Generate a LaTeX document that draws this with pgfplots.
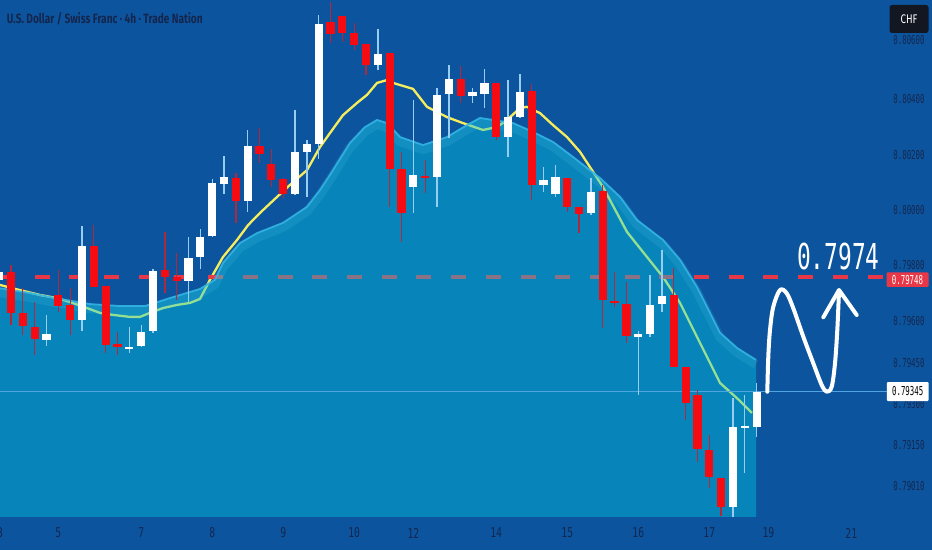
\documentclass[border=0pt]{standalone}
\usepackage{fontspec}
\setmainfont{Fira Sans}
\newfontfamily\numfont{DejaVu Sans Mono}[FakeStretch=0.6]
\newfontfamily\xnumfont{DejaVu Sans Mono}[FakeStretch=0.72]
\newfontfamily\bignumfont{DejaVu Sans Mono}[FakeStretch=0.64]
\newfontfamily\titlefont{Fira Sans}[FakeStretch=0.75]
\newfontfamily\chffont{Fira Sans}[FakeStretch=0.78]
\usepackage{pgfplots}
\usepackage{pgfplotstable}
\pgfplotsset{compat=1.18}

\definecolor{bg}{RGB}{12,85,158}
\definecolor{areac}{RGB}{0,205,228}
\definecolor{bandc}{RGB}{110,215,245}
\definecolor{edgec}{RGB}{50,180,228}
\definecolor{maY}{RGB}{247,236,92}
\definecolor{dashred}{RGB}{232,56,72}
\definecolor{pricel}{RGB}{80,165,225}
\definecolor{cred}{RGB}{245,12,18}
\definecolor{wickdn}{RGB}{175,40,60}
\definecolor{wickup}{RGB}{150,205,240}
\definecolor{navy}{RGB}{20,38,78}
\definecolor{chfbg}{RGB}{19,23,34}

% candles: index, open, high, low, close
\pgfplotstableread{
i o h l c
0 0.79738 0.79780 0.79720 0.79766
4 0.79527 0.79615 0.79506 0.79548
7 0.79597 0.79927 0.79559 0.79857
11 0.79495 0.79573 0.79481 0.79502
12 0.79506 0.79580 0.79502 0.79555
13 0.79559 0.79776 0.79552 0.79769
16 0.79734 0.79888 0.79660 0.79815
17 0.79818 0.79916 0.79776 0.79888
18 0.79892 0.80092 0.79888 0.80078
19 0.80074 0.80173 0.80039 0.80099
21 0.80015 0.80264 0.79976 0.80208
25 0.80039 0.80334 0.80036 0.80187
26 0.80187 0.80229 0.80029 0.80215
27 0.80215 0.80667 0.80162 0.80636
32 0.80492 0.80618 0.80474 0.80531
35 0.80064 0.80369 0.79973 0.80106
37 0.80099 0.80411 0.79994 0.80387
38 0.80390 0.80492 0.80236 0.80443
40 0.80383 0.80411 0.80359 0.80397
41 0.80390 0.80478 0.80341 0.80429
43 0.80239 0.80439 0.80169 0.80309
44 0.80309 0.80460 0.80306 0.80397
46 0.80071 0.80134 0.80046 0.80088
47 0.80039 0.80141 0.80029 0.80099
50 0.79973 0.80095 0.79966 0.80046
54 0.79538 0.79559 0.79334 0.79548
55 0.79548 0.79755 0.79538 0.79650
56 0.79653 0.79843 0.79625 0.79681
62 0.78941 0.79323 0.78906 0.79222
63 0.79218 0.79334 0.79060 0.79225
64 0.79222 0.79376 0.79187 0.79345
}\upc

\pgfplotstableread{
i o h l c
1 0.79766 0.79790 0.79580 0.79622
2 0.79622 0.79709 0.79545 0.79576
3 0.79573 0.79660 0.79474 0.79530
5 0.79685 0.79773 0.79625 0.79646
6 0.79650 0.79709 0.79545 0.79597
8 0.79857 0.79930 0.79713 0.79713
9 0.79716 0.79716 0.79481 0.79509
10 0.79513 0.79555 0.79474 0.79502
14 0.79773 0.79906 0.79692 0.79748
15 0.79748 0.79832 0.79667 0.79734
20 0.80095 0.80113 0.79938 0.80015
22 0.80208 0.80271 0.80148 0.80180
23 0.80145 0.80197 0.80064 0.80088
24 0.80092 0.80095 0.80025 0.80039
28 0.80643 0.80713 0.80569 0.80601
29 0.80664 0.80664 0.80573 0.80604
30 0.80604 0.80639 0.80545 0.80562
31 0.80566 0.80566 0.80457 0.80492
33 0.80534 0.80534 0.79994 0.80127
34 0.80127 0.80187 0.79871 0.79973
36 0.80102 0.80159 0.80043 0.80095
39 0.80443 0.80488 0.80359 0.80383
42 0.80429 0.80429 0.80229 0.80239
45 0.80401 0.80425 0.80018 0.80071
48 0.80095 0.80095 0.79976 0.79994
49 0.79994 0.79994 0.79902 0.79969
51 0.80050 0.80071 0.79569 0.79667
52 0.79664 0.79766 0.79643 0.79657
53 0.79653 0.79731 0.79516 0.79541
57 0.79685 0.79780 0.79432 0.79432
58 0.79432 0.79432 0.79246 0.79306
59 0.79334 0.79352 0.79099 0.79145
60 0.79141 0.79194 0.79008 0.79046
61 0.79043 0.79043 0.78909 0.78941
}\dnc

% moving average
\pgfplotstableread{
i p
0.07 0.79720
1.76 0.79702
3.45 0.79685
4.89 0.79674
5.99 0.79660
7.42 0.79639
8.52 0.79622
9.62 0.79615
11.05 0.79608
11.90 0.79608
12.74 0.79622
13.84 0.79639
15.03 0.79650
16.12 0.79657
16.97 0.79671
17.81 0.79738
18.91 0.79818
20.10 0.79878
21.03 0.79930
22.04 0.79973
23.48 0.80029
24.57 0.80071
26.01 0.80123
27.11 0.80204
27.95 0.80253
29.05 0.80316
30.24 0.80359
31.08 0.80387
31.93 0.80429
32.77 0.80439
33.28 0.80429
34.97 0.80408
36.15 0.80345
37.84 0.80309
39.19 0.80288
40.88 0.80264
42.06 0.80274
42.91 0.80299
44.01 0.80341
44.60 0.80345
45.70 0.80323
46.80 0.80281
47.98 0.80239
49.08 0.80187
51.02 0.80064
53.05 0.79906
54.74 0.79818
56.09 0.79748
57.53 0.79657
58.96 0.79538
60.91 0.79376
62.34 0.79323
63.61 0.79271
}\ma

% upper edge of the shaded area
\pgfplotstableread{
i p
0.00 0.79709
2.60 0.79692
5.14 0.79671
7.67 0.79653
10.21 0.79646
12.32 0.79646
14.43 0.79674
16.97 0.79706
18.24 0.79738
18.91 0.79797
20.35 0.79867
21.79 0.79902
23.98 0.79938
26.01 0.79994
27.11 0.80053
27.95 0.80106
29.64 0.80218
30.91 0.80274
31.93 0.80299
32.77 0.80288
33.87 0.80239
35.81 0.80211
37.84 0.80239
39.53 0.80281
40.63 0.80306
41.73 0.80299
43.42 0.80288
45.11 0.80257
46.80 0.80222
48.49 0.80169
50.77 0.80095
52.46 0.80029
53.89 0.79948
56.09 0.79878
57.53 0.79808
58.96 0.79713
60.91 0.79552
62.34 0.79499
63.95 0.79457
}\areatop

% shaded area closed at its base
\pgfplotstableread{
i p
0.00 0.78906
0.00 0.79709
2.60 0.79692
5.14 0.79671
7.67 0.79653
10.21 0.79646
12.32 0.79646
14.43 0.79674
16.97 0.79706
18.24 0.79738
18.91 0.79797
20.35 0.79867
21.79 0.79902
23.98 0.79938
26.01 0.79994
27.11 0.80053
27.95 0.80106
29.64 0.80218
30.91 0.80274
31.93 0.80299
32.77 0.80288
33.87 0.80239
35.81 0.80211
37.84 0.80239
39.53 0.80281
40.63 0.80306
41.73 0.80299
43.42 0.80288
45.11 0.80257
46.80 0.80222
48.49 0.80169
50.77 0.80095
52.46 0.80029
53.89 0.79948
56.09 0.79878
57.53 0.79808
58.96 0.79713
60.91 0.79552
62.34 0.79499
63.95 0.79457
63.95 0.78906
}\areafill

\begin{document}
\begin{tikzpicture}
\begin{axis}[
  name=ax,
  width=932pt, height=550pt, scale only axis,
  xmin=0.0705, xmax=78.82,
  ymin=0.78790, ymax=0.80720,
  axis line style={draw=none},
  axis background/.style={fill=bg},
  major tick length=0pt,
  tick style={draw=none},
  scaled y ticks=false,
  ytick={0.79015,0.79159,0.79302,0.79446,0.79594,0.79790,0.79983,0.80176,0.80373,0.80580},
  yticklabels={0.79010,0.79150,0.79300,0.79450,0.79600,0.79800,0.80000,0.80200,0.80400,0.80600},
  yticklabel pos=right,
  yticklabel style={anchor=center, xshift=-23pt, inner sep=0pt, text=navy,
    font=\numfont\fontsize{12.3}{13}\selectfont},
  xtick={0.08,5,12,18,24,30,35,42,48,54,60,65,72},
  xticklabels={3,5,7,8,9,10,12,14,15,16,17,19,21},
  xticklabel style={anchor=center, yshift=17pt, inner sep=0pt, text=navy,
    font=\xnumfont\fontsize{13.5}{14}\selectfont},
]
% moving average
\addplot[maY, line width=2.3pt, line join=round, no markers] table[x=i, y=p] {\ma};
% resistance level
\addplot[dashred, line width=3.6pt, dash pattern=on 15pt off 19.7pt, no markers]
  coordinates {(0.0705,0.79748) (75.0,0.79748)};
% shaded area (translucent, over the line and the level)
\addplot[draw=none, fill=areac, fill opacity=0.4, no markers] table[x=i, y=p] {\areafill};
\addplot[bandc, opacity=0.12, line width=9pt, yshift=-4.5pt, line join=round, no markers]
  table[x=i, y=p] {\areatop};
\addplot[edgec, opacity=0.9, line width=1.8pt, line join=round, no markers]
  table[x=i, y=p] {\areatop};
% last price line
\addplot[pricel, line width=1pt, no markers]
  coordinates {(0.0705,0.79345) (75.0,0.79345)};
% wicks
\addplot[draw=none, mark=none, error bars/.cd, y dir=plus, y explicit, error mark=none,
  error bar style={draw=wickup, line width=1.3pt}]
  table[x=i, y=l, y error plus expr=\thisrow{h}-\thisrow{l}] {\upc};
\addplot[draw=none, mark=none, error bars/.cd, y dir=plus, y explicit, error mark=none,
  error bar style={draw=wickdn, line width=1.3pt}]
  table[x=i, y=l, y error plus expr=\thisrow{h}-\thisrow{l}] {\dnc};
% bodies
\addplot[draw=none, mark=none, error bars/.cd, y dir=plus, y explicit, error mark=none,
  error bar style={draw=white, line width=8.2pt}]
  table[x=i, y=o, y error plus expr=\thisrow{c}-\thisrow{o}] {\upc};
\addplot[draw=none, mark=none, error bars/.cd, y dir=plus, y explicit, error mark=none,
  error bar style={draw=cred, line width=8.2pt}]
  table[x=i, y=c, y error plus expr=\thisrow{o}-\thisrow{c}] {\dnc};
\end{axis}

\begin{scope}[shift={(ax.north west)}, x=1pt, y=-1pt]
  % title
  \node[anchor=base west, inner sep=0pt, text=navy,
    font=\titlefont\bfseries\fontsize{13.5}{15}\selectfont] at (6.7,24)
    {U.S. Dollar / Swiss Franc · 4h · Trade Nation};
  % currency badge
  \fill[chfbg, rounded corners=2.5pt] (889.5,5) rectangle (928.5,33);
  \node[text=white, inner sep=0pt, font=\chffont\fontsize{12.5}{13}\selectfont] at (909,19) {CHF};
  % level label
  \fill[dashred, rounded corners=1pt] (886.5,272.3) rectangle (928.5,286.8);
  \node[text=white, inner sep=0pt, font=\numfont\fontsize{12.3}{13}\selectfont] at (907.5,279.6) {0.79748};
  % last price label
  \fill[white, rounded corners=1pt] (886.8,382) rectangle (928.5,401);
  \node[text=black, inner sep=0pt, font=\numfont\fontsize{12.3}{13}\selectfont] at (907.7,391.5) {0.79345};
  % big target text
  \node[anchor=base, inner sep=0pt, text=white,
    font=\bignumfont\fontsize{35.7}{38}\selectfont] at (838.3,269.3) {0.7974};
  % projected path arrow
  \draw[white, line width=4pt, line cap=round, line join=round]
    plot[smooth, tension=0.55] coordinates {(767.3,391.7) (768.3,356.7) (770,330) (773.3,306.7)
      (780,290) (786.7,293.3) (793.3,308.3) (803.3,336.7) (813.3,363.3) (821.7,385)
      (826.7,391.7) (831.7,386.7) (835,363.3) (837.3,330) (839,291)};
  \draw[white, line width=4pt, line cap=round, line join=round]
    (823.3,317.3) -- (839,290) -- (856.7,315);
\end{scope}
\pgfresetboundingbox
\path (ax.south west) rectangle (ax.north east);
\end{tikzpicture}
\end{document}
